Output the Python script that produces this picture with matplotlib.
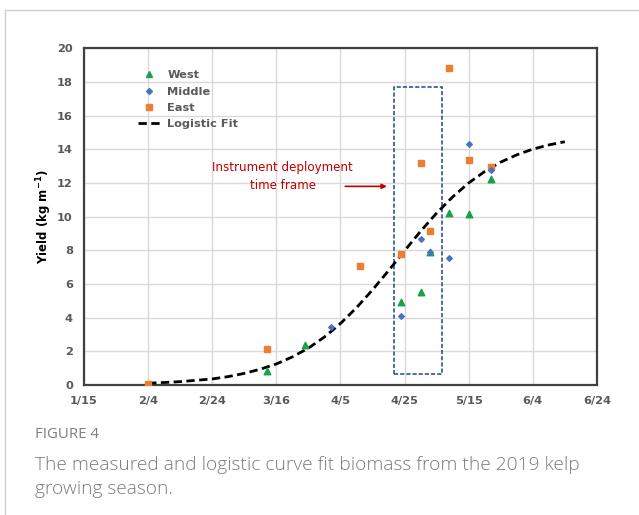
import matplotlib
matplotlib.use('Agg')
import matplotlib.pyplot as plt
from matplotlib.lines import Line2D
from matplotlib.patches import Rectangle

# day of year (2019)
tick_days = [15, 35, 55, 75, 95, 115, 135, 155, 175]
tick_labels = ["1/15", "2/4", "2/24", "3/16", "4/5", "4/25", "5/15", "6/4", "6/24"]

west_day = [72, 84, 114, 120, 123, 129, 135, 142]
west_yield = [0.85, 2.35, 4.95, 5.5, 7.9, 10.2, 10.15, 12.25]

middle_day = [92, 114, 120, 123, 129, 135, 142]
middle_yield = [3.45, 4.1, 8.7, 7.9, 7.55, 14.3, 12.8]

east_day = [35, 72, 101, 114, 123, 120, 129, 135, 142]
east_yield = [0.08, 2.15, 7.08, 7.78, 9.12, 13.2, 18.85, 13.35, 12.97]

fit_day = [35, 40, 45, 50, 55, 60, 65, 70, 75, 80, 85, 90, 95, 100, 105,
           110, 115, 120, 125, 130, 135, 140, 145, 150, 155, 160, 165]
fit_yield = [0.11, 0.15, 0.2, 0.28, 0.36, 0.5, 0.69, 0.94, 1.25, 1.67, 2.19,
             2.85, 3.65, 4.59, 5.65, 6.79, 7.97, 9.13, 10.21, 11.17, 12.0,
             12.68, 13.24, 13.67, 14.01, 14.26, 14.45]

green = "#1aa04a"
blue = "#4472c4"
orange = "#ed7d31"
tick_gray = "#595959"

fig = plt.figure(figsize=(6.39, 5.15), dpi=100)
ax = fig.add_axes([0.1315, 0.2524, 0.8025, 0.6538])

ax.plot(fit_day, fit_yield, color="black", linestyle=(0, (3, 1.6)), lw=2, zorder=3)
ax.scatter(west_day, west_yield, marker="^", s=22, color=green, zorder=4)
ax.scatter(middle_day, middle_yield, marker="D", s=8, color=blue, zorder=5)
ax.scatter(east_day, east_yield, marker="s", s=22, color=orange, zorder=4)

# instrument deployment window
ax.add_patch(Rectangle((111.8, 0.65), 15.0, 17.05, fill=False, edgecolor="#2f5597",
                       lw=1.2, linestyle=(0, (2.5, 1.2)), zorder=2))
ax.annotate("", xy=(109.5, 11.8), xytext=(96.5, 11.8),
            arrowprops=dict(arrowstyle="-|>", color="#c00000", lw=1.2,
                            mutation_scale=7, shrinkA=0, shrinkB=0))
ax.text(77, 12.4, "Instrument deployment\ntime frame", color="#c00000", fontsize=8.6,
        ha="center", va="center", linespacing=1.55)

ax.set_xlim(15, 175)
ax.set_ylim(0, 20)
ax.set_xticks(tick_days)
ax.set_xticklabels(tick_labels)
ax.set_yticks(range(0, 21, 2))
ax.grid(True, color="#d9d9d9", lw=1)
ax.set_axisbelow(True)
for s in ax.spines.values():
    s.set_color("#404040")
    s.set_linewidth(1.6)
ax.tick_params(length=0, labelsize=8.2, labelcolor=tick_gray, pad=8)
for lab in ax.get_xticklabels() + ax.get_yticklabels():
    lab.set_fontweight("bold")
ax.set_ylabel("Yield (kg m$^{\\mathbf{-1}}$)", fontsize=8.5, fontweight="bold", labelpad=2)

handles = [
    Line2D([], [], marker="^", color=green, linestyle="none", markersize=5),
    Line2D([], [], marker="D", color=blue, linestyle="none", markersize=3),
    Line2D([], [], marker="s", color=orange, linestyle="none", markersize=4.5),
    Line2D([], [], color="black", linestyle=(0, (3, 1.6)), lw=2),
]
leg = ax.legend(handles, ["West", "Middle", "East", "Logistic Fit"], loc="upper left",
                bbox_to_anchor=(0.085, 0.965), frameon=False, fontsize=8.2,
                handlelength=2.0, handletextpad=0.6, labelspacing=0.56)
for t in leg.get_texts():
    t.set_color(tick_gray)
    t.set_fontweight("bold")

# caption box frame
fig.add_artist(Line2D([4.5 / 639, 4.5 / 639], [0, 1 - 10 / 515], color="#d0d0d0", lw=1))
fig.add_artist(Line2D([4.5 / 639, 1], [1 - 10 / 515, 1 - 10 / 515], color="#d0d0d0", lw=1))

fig.text(35 / 639, 1 - 434 / 515, "FIGURE 4", fontsize=10.8, color="#7f7f7f",
         family="Open Sans", va="center")
fig.text(35 / 639, 1 - 477 / 515,
         "The measured and logistic curve fit biomass from the 2019 kelp\ngrowing season.",
         fontsize=13.8, color="#7a7a7a", family="Open Sans", va="center", linespacing=1.5,
         fontweight="light")

fig.savefig("out.png", dpi=100)
